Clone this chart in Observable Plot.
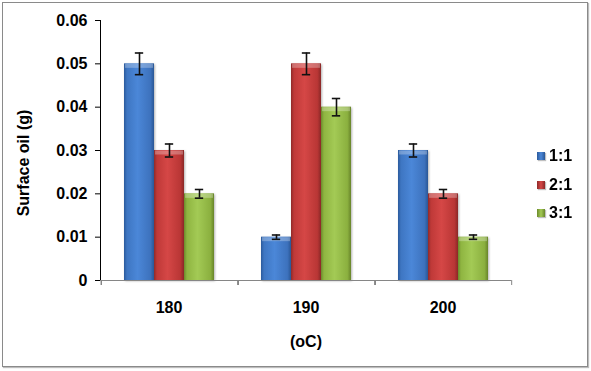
<!DOCTYPE html>
<html><head><meta charset="utf-8">
<script src="https://cdn.jsdelivr.net/npm/d3@7"></script>
<script src="https://cdn.jsdelivr.net/npm/@observablehq/plot@0.6"></script>
<style>
body{margin:0;background:#fff;}
#wrap{position:relative;width:591px;height:371px;font-family:"Liberation Sans",Arial,sans-serif;overflow:hidden;}
#border{position:absolute;left:2px;top:2px;width:584px;height:363px;border:1px solid #8a8a8a;box-shadow:1px 1px 1px #bdbdbd;pointer-events:none;}
#chart{position:absolute;left:0;top:0;}
#ylab{position:absolute;left:-76px;top:154px;width:200px;height:18px;line-height:18px;text-align:center;transform:rotate(-90deg);font-weight:bold;font-size:16px;color:#000;}
.lg{position:absolute;left:537px;height:18px;display:flex;align-items:center;font-weight:bold;font-size:16px;color:#000;}
.sw{width:8px;height:8px;margin-right:4px;box-shadow:1px 1px 1px rgba(0,0,0,0.25);}
#chart svg text{font-size:16px;font-weight:bold;}
#chart svg g[aria-label="y-axis"] .tick line,#chart svg g[aria-label="y-axis"] .domain,#chart svg g[aria-label="y-axis"] path{stroke:#868686;}
</style></head>
<body><div id="wrap"><div id="chart"></div><div id="ylab">Surface oil (g)</div><div id="legend"></div><div id="border"></div></div>
<script>
const temps = ["180", "190", "200"];
const series = ["1:1", "2:1", "3:1"];
const val11 = [0.05, 0.01, 0.03];
const val21 = [0.03, 0.05, 0.02];
const val31 = [0.02, 0.04, 0.01];
const err11 = [0.0025, 0.0005, 0.0015];
const err21 = [0.0015, 0.0025, 0.001];
const err31 = [0.001, 0.002, 0.0005];
const yTicks = [0, 0.01, 0.02, 0.03, 0.04, 0.05, 0.06];

const vals = [val11, val21, val31];
const errs = [err11, err21, err31];
const rows = [];
temps.forEach((t, i) => series.forEach((s, j) => rows.push({temp: t, series: s, value: vals[j][i], err: errs[j][i]})));

const grads = [
  ["#2b5a9c", "#3e76c2", "#4b87d8", "#3d72bd", "#2a5796"],
  ["#8f2a29", "#bf3938", "#d54746", "#b93635", "#8a2827"],
  ["#6c8a2c", "#8fb541", "#a3ca55", "#8bb03f", "#68852a"]
];

const W = 591, H = 371, mL = 99, mR = 79, mT = 20, mB = 91;
const gapFrac = 0.332;                       // gap between groups as a fraction of a category width
const step = (W - mL - mR) / temps.length;   // category width
const halfGap = step * gapFrac / 2;
const barW = step * (1 - gapFrac) / series.length;
const xOuter = halfGap / barW;               // outer padding of the inner band scale, in bar steps
const capInset = (barW - 9) / 2;
const axisGray = "#868686";

const chart = Plot.plot({
  width: W, height: H,
  marginLeft: mL, marginRight: mR, marginTop: mT, marginBottom: mB,
  style: {fontFamily: '"Liberation Sans", Arial, sans-serif', fontSize: "16px", fontWeight: "bold", color: "#000", background: "transparent", overflow: "visible"},
  facet: {data: rows, x: "temp"},
  fx: {domain: temps, padding: 0, axis: "bottom", tickSize: 0, tickPadding: 21, label: "(oC)", labelAnchor: "center", labelOffset: 66},
  x: {domain: series, paddingInner: 0, paddingOuter: xOuter, axis: null},
  y: {domain: [0, 0.06], ticks: yTicks, tickFormat: d => d === 0 ? "0" : d.toFixed(2), tickSize: 5, tickPadding: 8, label: null, line: true},
  color: {domain: series, range: ["url(#g0)", "url(#g1)", "url(#g2)"]},
  marks: [
    Plot.barY(rows, {x: "series", y: "value", fill: "series"}),
    Plot.tickY(rows, {x: "series", y: "value", stroke: "#fff", strokeOpacity: 0.28, strokeWidth: 4, dy: 2, inset: 1}),
    Plot.ruleY(rows.filter(d => d.series === series[0]), {y: 0, stroke: axisGray}),
    Plot.ruleX(rows.filter(d => d.series === series[0]), {x: "series", y1: 0, y2: 0, insetBottom: -5, dx: -(barW / 2 + halfGap), stroke: axisGray}),
    Plot.ruleX(rows.filter(d => d.series === series[2] && d.temp === temps[2]), {x: "series", y1: 0, y2: 0, insetBottom: -5, dx: (barW / 2 + halfGap), stroke: axisGray}),
    Plot.ruleX(rows, {x: "series", y1: d => d.value - d.err, y2: d => d.value + d.err, stroke: "#111", strokeWidth: 1.6}),
    Plot.tickY(rows, {x: "series", y: d => d.value + d.err, stroke: "#111", strokeWidth: 1.6, inset: capInset}),
    Plot.tickY(rows, {x: "series", y: d => d.value - d.err, stroke: "#111", strokeWidth: 1.6, inset: capInset})
  ]
});

// gradient definitions
const ns = "http://www.w3.org/2000/svg";
const defs = document.createElementNS(ns, "defs");
grads.forEach((g, k) => {
  const lg = document.createElementNS(ns, "linearGradient");
  lg.setAttribute("id", "g" + k);
  lg.setAttribute("x1", "0"); lg.setAttribute("x2", "1"); lg.setAttribute("y1", "0"); lg.setAttribute("y2", "0");
  [0, 0.1, 0.45, 0.88, 1].forEach((o, m) => {
    const st = document.createElementNS(ns, "stop");
    st.setAttribute("offset", o);
    st.setAttribute("stop-color", g[m]);
    lg.appendChild(st);
  });
  defs.appendChild(lg);
});
chart.insertBefore(defs, chart.firstChild);
chart.querySelectorAll('g[aria-label="bar"]').forEach(g => g.style.filter = "drop-shadow(1px 1px 1.2px rgba(0,0,0,0.3))");
document.getElementById("chart").appendChild(chart);

// legend
const legend = document.getElementById("legend");
const centers = [156, 184.5, 213];
series.forEach((s, k) => {
  const row = document.createElement("div");
  row.className = "lg";
  row.style.top = (centers[k] - 9) + "px";
  const sw = document.createElement("span");
  sw.className = "sw";
  sw.style.background = `linear-gradient(to right, ${grads[k][0]}, ${grads[k][2]} 50%, ${grads[k][4]})`;
  row.appendChild(sw);
  const tx = document.createElement("span");
  tx.textContent = s;
  row.appendChild(tx);
  legend.appendChild(row);
});
</script>
</body></html>
